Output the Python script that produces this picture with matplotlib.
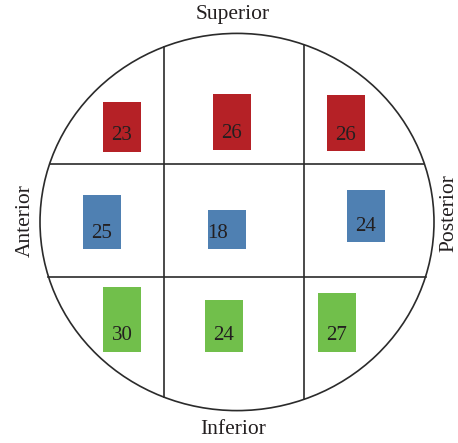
import numpy as np
import matplotlib
matplotlib.use("Agg")
import matplotlib.pyplot as plt
from matplotlib.patches import Ellipse

# values per cell, rows = superior / middle / inferior, cols = left / centre / right
values = np.array([[23, 26, 26],
                   [25, 18, 24],
                   [30, 24, 27]])
row_colors = ["#B52126", "#4F80B2", "#71BF4B"]
side_labels = ["Superior", "Inferior", "Anterior", "Posterior"]

# layout (pixel coordinates of the 458x443 canvas)
cx, cy, rx, ry = 237, 222, 197, 188.6
vlines = [164, 304.3]
hlines = [163.5, 276.5]
bar_x = [[122, 232, 346], [102, 227, 366], [122, 224, 337]]
bar_base = [[151.7, 150, 151], [249, 249, 242], [352, 352, 352]]
px_per_unit = 2.17
bar_w = 38

fig = plt.figure(figsize=(4.58, 4.43), dpi=100)
ax = fig.add_axes([0, 0, 1, 1])
ax.set_xlim(0, 458)
ax.set_ylim(443, 0)
ax.axis("off")

line_c = "#2b2b2b"
ax.add_patch(Ellipse((cx, cy), 2 * rx, 2 * ry, fill=False, ec=line_c, lw=1.2))
for x in vlines:
    dy = ry * np.sqrt(1 - ((x - cx) / rx) ** 2)
    ax.plot([x, x], [cy - dy, cy + dy], color=line_c, lw=1.2)
for y in hlines:
    dx = rx * np.sqrt(1 - ((y - cy) / ry) ** 2)
    ax.plot([cx - dx, cx + dx], [y, y], color=line_c, lw=1.2)

font = "Liberation Serif"
txt_c = "#231f20"
for r in range(3):
    h = values[r] * px_per_unit
    ax.bar(bar_x[r], -h, bottom=bar_base[r], width=bar_w,
           color=row_colors[r], edgecolor="none")
    for c in range(3):
        tx = bar_x[r][c] - (9 if values[r][c] == 18 else 0)
        ax.text(tx, bar_base[r][c] - 16, str(values[r][c]), ha="center",
                va="center", fontsize=15, family=font, color=txt_c)

ax.text(232.7, 14, side_labels[0], ha="center", va="center",
        fontsize=15.5, family=font, color=txt_c)
ax.text(232.7, 429, side_labels[1], ha="center", va="center",
        fontsize=15.5, family=font, color=txt_c)
ax.text(25, 220.7, side_labels[2], ha="center", va="center", rotation=90,
        fontsize=15.5, family=font, color=txt_c)
ax.text(449, 213, side_labels[3], ha="center", va="center", rotation=90,
        fontsize=15.5, family=font, color=txt_c)

fig.savefig("out.png", dpi=100)
